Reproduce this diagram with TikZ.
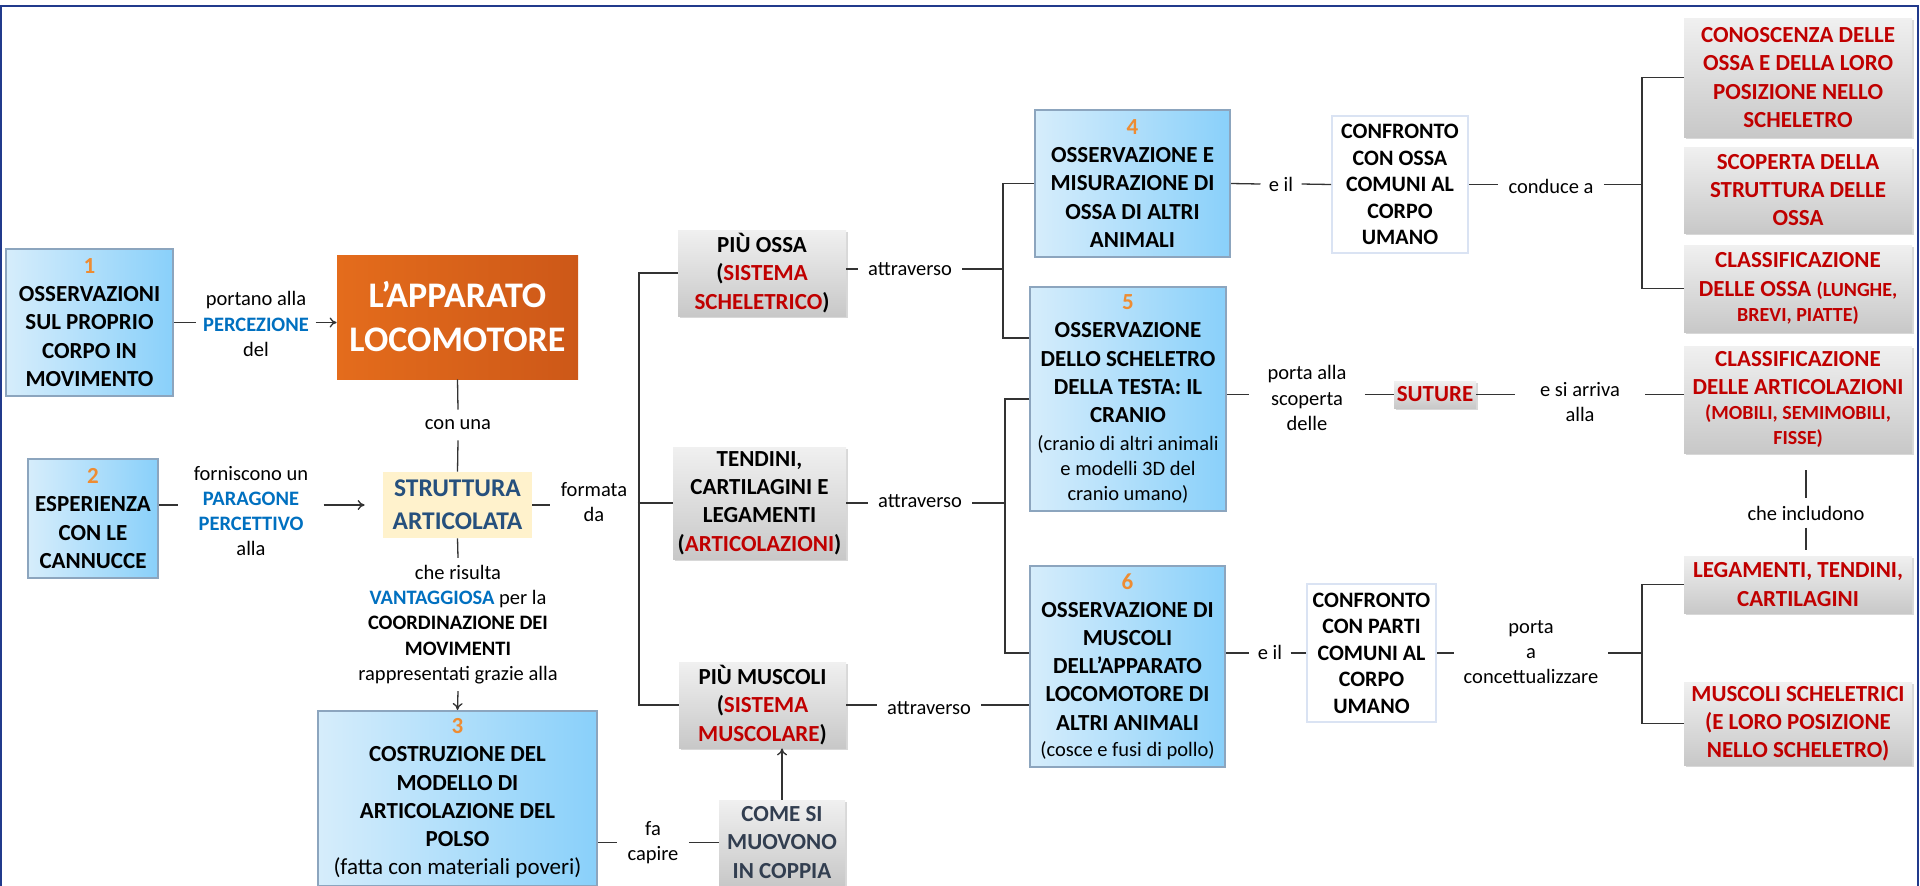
\documentclass[tikz,border=0pt]{standalone}
\usepackage{fontspec}
\setmainfont{Carlito}
\usetikzlibrary{arrows.meta,shadows}
\definecolor{redt}{RGB}{192,0,0}
\definecolor{bluet}{RGB}{0,112,192}
\definecolor{strt}{RGB}{38,80,125}
\definecolor{framec}{RGB}{33,58,140}
\definecolor{numc}{RGB}{238,140,50}
\definecolor{bluel}{RGB}{214,237,251}
\definecolor{bluer}{RGB}{137,208,250}
\definecolor{blueb}{RGB}{140,165,190}
\definecolor{greyt}{RGB}{240,240,240}
\definecolor{greyb}{RGB}{200,200,200}
\definecolor{cream}{RGB}{255,242,204}
\definecolor{orl}{RGB}{228,108,28}
\definecolor{orm}{RGB}{242,128,44}
\definecolor{orr}{RGB}{205,88,24}
\definecolor{confb}{RGB}{218,227,243}
\definecolor{comet}{RGB}{50,62,80}
\newcommand{\bigf}{\fontsize{11.5}{14.1}\selectfont}
\newcommand{\labf}{\fontsize{10.25}{12.6}\selectfont}
\newcommand{\smallf}{\fontsize{10}{12.5}\selectfont}
\newcommand{\numb}[1]{{\color{numc}#1}}
\newcommand{\rd}[1]{{\color{redt}#1}}
\newcommand{\bl}[1]{{\bfseries\color{bluet}#1}}
\tikzset{
 conn/.style={line width=0.65pt, draw=black!80},
 arr/.style={conn, -{To[length=3.5pt,width=5pt]}},
 box/.style={inner ysep=0pt, inner xsep=-7.5pt, align=flush center, font=\bfseries\bigf},
 bluebox/.style={box, draw=blueb, line width=1pt, left color=bluel, right color=bluer},
 greybox/.style={box, top color=greyt, bottom color=greyb, drop shadow={opacity=0.3,shadow xshift=1.2pt,shadow yshift=-1.2pt}},
 rbox/.style={greybox, text=redt, minimum width=114pt, text width=129pt},
 confbox/.style={box, draw=confb, line width=1pt, fill=white, font=\bfseries\fontsize{11}{13.25}\selectfont},
 lab/.style={font=\labf, align=center, inner xsep=5pt, inner ysep=3.5pt},
}
\begin{document}
\begin{tikzpicture}[x=0.5pt,y=-0.5pt]
\useasboundingbox (0,0) rectangle (1920,885);
\fill[white] (0,0) rectangle (1920,885);
\draw[framec, line width=1.4pt] (1,890) -- (1,6) -- (1918,6) -- (1918,890);

% boxes
\node[bluebox, minimum width=83.5pt, minimum height=73.5pt, text width=98.5pt] (b1) at (89.5,322.5) {\numb{1}\\OSSERVAZIONI\\SUL PROPRIO\\CORPO IN\\MOVIMENTO};
\node[bluebox, minimum width=65pt, minimum height=59.5pt, text width=80pt] (b2) at (93,518.5) {\numb{2}\\ESPERIENZA\\CON LE\\CANNUCCE};
\node[left color=orl, middle color=orm, right color=orr, minimum width=120.5pt, minimum height=62pt, align=center, font=\bfseries\fontsize{18}{22}\selectfont, text=white, inner sep=0pt] (app) at (457.5,317) {L’APPARATO\\LOCOMOTORE};
\node[fill=cream, minimum width=74.5pt, minimum height=33pt, align=center, font=\bfseries\fontsize{12.75}{16.5}\selectfont, text=strt, inner sep=0pt] (str) at (457.5,505) {STRUTTURA\\ARTICOLATA};
\node[bluebox, minimum width=139.5pt, minimum height=87.5pt, text width=154.5pt] (b3) at (457.5,798.5) {\numb{3}\\COSTRUZIONE DEL\\MODELLO DI\\ARTICOLAZIONE DEL\\POLSO\\{\mdseries (fatta con materiali poveri)}};

\node[greybox, minimum width=84pt, minimum height=43pt, text width=99pt] (ossa) at (762,273) {PIÙ OSSA\\(\rd{SISTEMA}\\\rd{SCHELETRICO})};
\node[greybox, minimum width=86.5pt, minimum height=56pt, text width=101.5pt] (tend) at (759.5,503) {TENDINI,\\CARTILAGINI E\\LEGAMENTI\\(\rd{ARTICOLAZIONI})};
\node[greybox, minimum width=83.5pt, minimum height=43pt, text width=98.5pt] (musc) at (762.5,705) {PIÙ MUSCOLI\\(\rd{SISTEMA}\\\rd{MUSCOLARE})};
\node[greybox, text=comet, minimum width=63pt, minimum height=42.5pt, text width=78pt] (come) at (782,842.5) {COME SI\\MUOVONO\\IN COPPIA};

\node[bluebox, minimum width=97.5pt, minimum height=73.5pt, text width=112.5pt] (b4) at (1132.5,183.5) {\numb{4}\\OSSERVAZIONE E\\MISURAZIONE DI\\OSSA DI ALTRI\\ANIMALI};
\node[confbox, minimum width=68pt, minimum height=68.5pt, text width=83pt] (c1) at (1400,184.5) {CONFRONTO\\CON OSSA\\COMUNI AL\\CORPO\\UMANO};
\node[bluebox, minimum width=98pt, minimum height=112pt, text width=113pt] (b5) at (1128,399) {\numb{5}\\OSSERVAZIONE\\DELLO SCHELETRO\\DELLA TESTA: IL\\CRANIO\par\vspace{1.2pt}{\mdseries\labf (cranio di altri animali\\e modelli 3D del\\cranio umano)\par}};
\node[bluebox, minimum width=97.5pt, minimum height=100.5pt, text width=112.5pt] (b6) at (1127.5,666.5) {\numb{6}\\OSSERVAZIONE DI\\MUSCOLI\\DELL’APPARATO\\LOCOMOTORE DI\\ALTRI ANIMALI\par\vspace{0.5pt}{\mdseries\labf (cosce e fusi di pollo)\par}};
\node[confbox, minimum width=64.5pt, minimum height=69pt, text width=79.5pt] (c2) at (1371.5,653) {CONFRONTO\\CON PARTI\\COMUNI AL\\CORPO\\UMANO};
\node[greybox, text=redt, minimum width=41pt, minimum height=13.5pt] (sut) at (1435,394.5) {SUTURE};

\node[rbox, minimum height=59.5pt] (r1) at (1798,77.5) {CONOSCENZA DELLE\\OSSA E DELLA LORO\\POSIZIONE NELLO\\SCHELETRO};
\node[rbox, minimum height=43pt] (r2) at (1798,190) {SCOPERTA DELLA\\STRUTTURA DELLE\\OSSA};
\node[rbox, minimum height=43.5pt] (r3) at (1798,288.5) {CLASSIFICAZIONE\\DELLE OSSA {\smallf (LUNGHE,}\par{\smallf BREVI, PIATTE)\par}};
\node[rbox, minimum height=53.5pt] (r4) at (1798,399.5) {CLASSIFICAZIONE\\DELLE ARTICOLAZIONI\par{\smallf (MOBILI, SEMIMOBILI,\\FISSE)\par}};
\node[rbox, minimum height=28.5pt] (r5) at (1798,584.5) {LEGAMENTI, TENDINI,\\CARTILAGINI};
\node[rbox, minimum height=41.5pt] (r6) at (1798,723.5) {MUSCOLI SCHELETRICI\\(E LORO POSIZIONE\\NELLO SCHELETRO)};

% labels
\node[lab, inner xsep=3.25pt] (l1) at (256,324) {portano alla\\\bl{PERCEZIONE}\\del};
\node[lab, inner xsep=7.5pt] (l2) at (251,511) {forniscono un\\\bl{PARAGONE}\\\bl{PERCETTIVO}\\alla};
\node[lab, inner ysep=5pt] (lcon) at (458,425) {con una};
\node[lab] (lmid) at (458,624.5) {che risulta\\\bl{VANTAGGIOSA} per la\\\textbf{COORDINAZIONE DEI}\\\textbf{MOVIMENTI}\\rappresentati grazie alla};
\node[lab] (lform) at (594,502) {formata\\da};
\node[lab] (la1) at (910,269) {attraverso};
\node[lab] (la2) at (920,501) {attraverso};
\node[lab] (la3) at (929,708) {attraverso};
\node[lab] (lfa) at (653,843) {fa\\capire};
\node[lab, inner xsep=4pt] (le1) at (1281,184) {e il};
\node[lab] (lcond) at (1551,186) {conduce a};
\node[lab, inner xsep=9pt] (lporta) at (1307,398) {porta alla\\scoperta\\delle};
\node[lab, inner xsep=12.5pt] (learr) at (1580,402) {e si arriva\\alla};
\node[lab] (lche) at (1806,513) {che includono};
\node[lab, inner xsep=4pt] (le2) at (1270,652) {e il};
\node[lab, inner xsep=4.75pt] (lconc) at (1531,652) {porta\\a\\concettualizzare};

% bracket coordinates
\coordinate (brA) at (639,0);
\coordinate (brB) at (1003,0);
\coordinate (brC) at (1005,0);
\coordinate (brD) at (1642,0);
\coordinate (y338) at (0,338);

% connectors
\draw[conn] (b1.east) -- (b1.east -| l1.west);
\draw[arr] (b1.east -| l1.east) -- (b1.east -| app.west);
\draw[conn] (b2.east |- str.west) -- (l2.west |- str.west);
\draw[arr, shorten >=9pt] (l2.east |- str.west) -- (str.west);
\draw[conn] (app.south) -- (lcon.north);
\draw[conn] (lcon.south) -- (str.north);
\draw[conn] (str.south) -- (lmid.north);
\draw[arr] (lmid.south) -- (b3.north);
\draw[conn] (str.east) -- (str.east -| lform.west);
\draw[conn] (tend.west -| lform.east) -- (tend.west);
\draw[conn] (ossa.west) -- (ossa.west -| brA) -- (musc.west -| brA) -- (musc.west);
\draw[conn] (la1.west -| ossa.east) -- (la1.west);
\draw[conn] (la1.east) -- (la1.east -| brB);
\draw[conn] (b4.west) -- (b4.west -| brB) -- (y338 -| brB) -- (y338 -| b5.west);
\draw[conn] (tend.east) -- (tend.east -| la2.west);
\draw[conn] (tend.east -| la2.east) -- (tend.east -| brC);
\draw[conn] (b5.west) -- (b5.west -| brC) -- (c2.west -| brC) -- (c2.west -| b6.west);
\draw[conn] (musc.east) -- (musc.east -| la3.west);
\draw[conn] (musc.east -| la3.east) -- (musc.east -| b6.west);
\draw[arr] (come.north) -- (come.north |- musc.south);
\draw[conn] (come.west -| b3.east) -- (come.west -| lfa.west);
\draw[conn] (come.west -| lfa.east) -- (come.west);
\draw[conn] (b4.east) -- (le1.west);
\draw[conn] (le1.east) -- (c1.west);
\draw[conn] (c1.east) -- (c1.east -| lcond.west);
\draw[conn] (c1.east -| lcond.east) -- (c1.east -| brD);
\draw[conn] (r1.west) -- (r1.west -| brD) -- (r3.west -| brD) -- (r3.west);
\draw[conn] (sut.west -| b5.east) -- (sut.west -| lporta.west);
\draw[conn] (sut.west -| lporta.east) -- (sut.west);
\draw[conn] (sut.east) -- (sut.east -| learr.west);
\draw[conn] (sut.east -| learr.east) -- (sut.east -| r4.west);
\draw[conn, shorten <=8.5pt] (lche.north |- r4.south) -- (lche.north);
\draw[conn, shorten >=3pt] (lche.south) -- (lche.south |- r5.north);
\draw[conn] (b6.east |- c2.west) -- (c2.west -| le2.west);
\draw[conn] (c2.west -| le2.east) -- (c2.west);
\draw[conn] (c2.east) -- (c2.east -| lconc.west);
\draw[conn] (c2.east -| lconc.east) -- (c2.east -| brD);
\draw[conn] (r5.west) -- (r5.west -| brD) -- (r6.west -| brD) -- (r6.west);
\end{tikzpicture}
\end{document}
